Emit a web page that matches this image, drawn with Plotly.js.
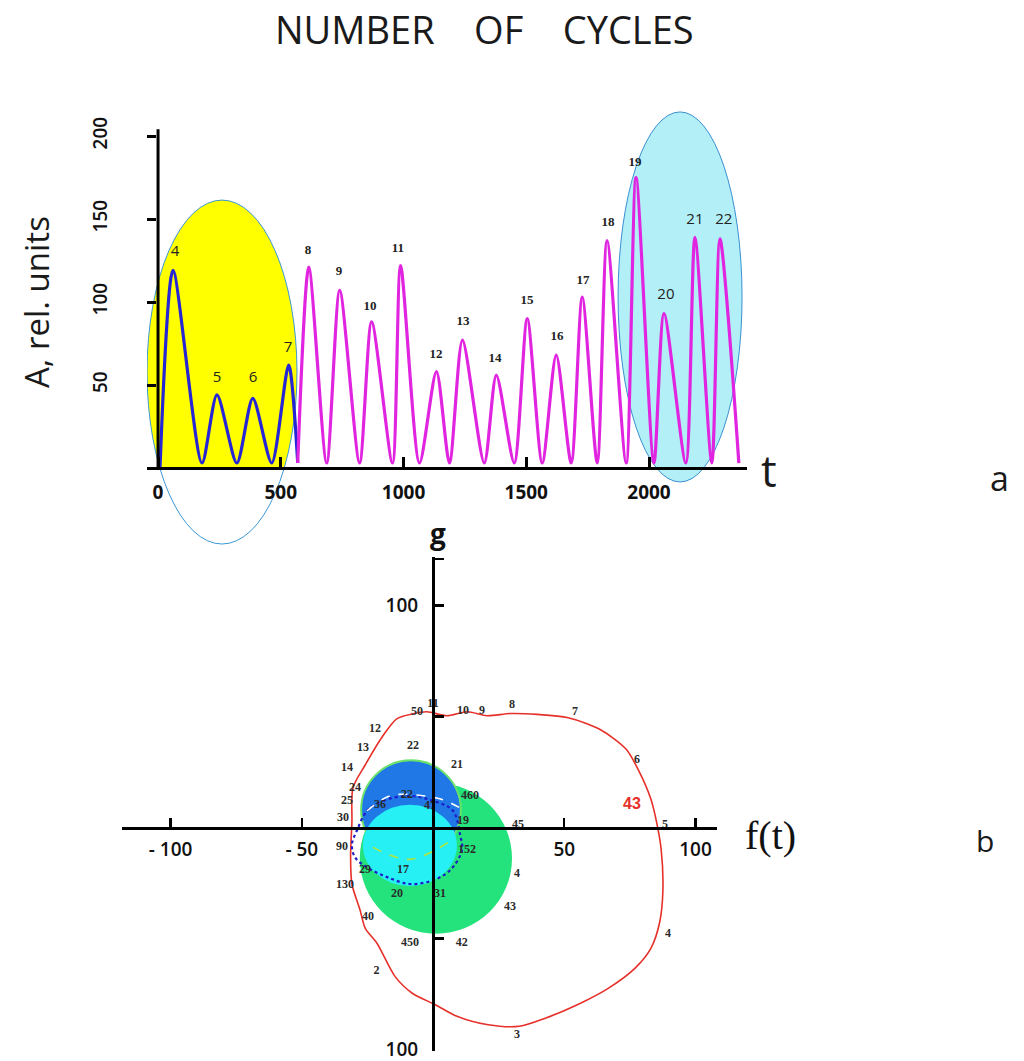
<!DOCTYPE html>
<html>
<head>
<meta charset="utf-8">
<script src="https://cdn.plot.ly/plotly-3.0.1.min.js"></script>
<style>html,body{margin:0;padding:0;background:#fff;}#chart{width:1024px;height:1061px;}</style>
</head>
<body>
<div id="chart"></div>
<script>
// ---------- Panel a : A(t) ----------
const blueT = [8, 61, 179, 240, 321, 386, 463, 532, 569];
const blueA = [0, 119, 3, 44, 3, 42, 3, 62, 3];
const magT = [569, 614, 687, 740, 821, 870, 955, 988, 1065, 1134, 1187, 1240, 1329, 1378, 1451, 1504, 1565, 1622, 1683, 1728, 1789, 1829, 1907, 1947, 2020, 2061, 2150, 2187, 2256, 2289, 2366];
const magA = [3, 121, 3, 107, 3, 88, 3, 122, 3, 58, 3, 77, 3, 56, 3, 90, 3, 68, 3, 103, 3, 137, 3, 175, 3, 93, 3, 139, 3, 138, 3];

const peakSansText = ['4', '5', '6', '7', '20', '21', '22'];
const peakSansT = [69, 240, 387, 530, 2069, 2187, 2305];
const peakSansA = [130, 54, 54, 72, 104, 149, 149];
const peakSerifText = ['8', '9', '10', '11', '12', '13', '14', '15', '16', '17', '18', '19'];
const peakSerifT = [611, 737, 863, 977, 1132, 1242, 1373, 1503, 1625, 1731, 1833, 1943];
const peakSerifA = [131, 118, 97, 132, 68, 88, 66, 101, 79, 113, 148, 184];

const tTickVals = [0, 500, 1000, 1500, 2000];
const aTickVals = [50, 100, 150, 200];

// ---------- Panel b : phase portrait g(f) ----------
const redF = [-30.5, -25.9, -19.0, -13.7, -7.6, -2.3, 5.3, 13.0, 20.6, 29.4, 39.7, 51.5, 63.5, 73.6, 78.7, 83.0, 85.2, 86.9, 87.6, 86.4, 83.0, 77.0, 66.9, 55.0, 43.0, 32.9, 21.0, 9.1, 0.9, -7.9, -14.5, -21.3, -25.8, -27.8, -30.9, -31.4, -30.9, -30.5];
const redG = [17.9, 28.1, 41.5, 49.1, 51.3, 52.2, 50.4, 52.2, 50.4, 51.4, 51.0, 49.5, 44.3, 35.3, 24.9, 12.9, 2.4, -9.5, -27.5, -42.4, -54.4, -63.3, -72.3, -79.8, -85.8, -89.5, -88.8, -85.0, -79.8, -74.6, -67.0, -52.2, -45.4, -37.1, -25.4, -12.5, 2.4, 17.9];

const loopF = [-25.1, -19.0, -8.8, 0, 7.6, 10.3, 11.0, 6.5, 0, -8.8, -17.5, -25.1, -29.7, -30.9, -29.0, -25.1];
const loopG = [7.6, 12.1, 14.3, 12.1, 7.6, -3.1, -10.3, -19.2, -23.7, -25.4, -22.3, -17.9, -13.4, -7.6, -1.3, 7.6];

const whiteArcF = [-25.1, -16.4, -6.1, 3.8, 10.3];
const whiteArcG = [7.6, 14.3, 14.7, 12.5, 8.9];
const limeArcF = [-22.9, -8.8, 5.7];
const limeArcG = [-8.9, -14.3, -6.7];

const bLabels = ['11', '50', '10', '9', '8', '7', '6', '5', '4', '3', '2', '40', '130', '12', '13', '14', '24', '25', '30', '22', '21', '460', '19', '45', '152', '4', '43', '42', '450', '31', '20', '17', '29', '36', '22', '47', '90'];
const bLabelF = [0, -6.1, 11.4, 18.7, 30.1, 54.1, 77.7, 88.4, 89.5, 32.0, -21.5, -24.8, -33.5, -22.1, -26.7, -32.8, -29.7, -32.8, -34.3, -7.6, 9.1, 14.1, 11.4, 32.4, 13.0, 32.0, 29.3, 11.0, -8.8, 2.7, -13.7, -11.4, -25.9, -20.2, -9.9, -1.1, -34.7];
const bLabelG = [55.5, 52.2, 52.7, 52.7, 55.4, 52.2, 30.4, 1.3, -47.8, -93.2, -64.8, -40.2, -25.9, 44.6, 35.7, 26.8, 17.9, 12.1, 4.5, 36.6, 28.1, 14.3, 3.1, 1.3, -10.3, -21.0, -35.7, -52.2, -52.2, -29.9, -29.9, -19.2, -19.2, 10.3, 14.7, 9.8, -8.9];

const fTickVals = [-100, -50, 50, 100];
const fTickText = ['- 100', '- 50', '50', '100'];
const gTickVals = [121, 100, 50, -50, -100];
const gTickText = ['', '100', '', '', '100'];

const labelColorB = '#2a2a2a';

const traces = [
  {x: blueT, y: blueA, xaxis: 'x', yaxis: 'y', mode: 'lines',
   line: {color: '#2626d6', width: 3.2, shape: 'spline', smoothing: 0.75}, hoverinfo: 'skip'},
  {x: magT, y: magA, xaxis: 'x', yaxis: 'y', mode: 'lines',
   line: {color: '#e024e0', width: 3.2, shape: 'spline', smoothing: 0.75}, hoverinfo: 'skip'},
  {x: peakSansT, y: peakSansA, text: peakSansText, xaxis: 'x', yaxis: 'y', mode: 'text',
   textfont: {family: 'Open Sans', size: 15, color: '#222'}, hoverinfo: 'skip'},
  {x: peakSerifT, y: peakSerifA, text: peakSerifText, xaxis: 'x', yaxis: 'y', mode: 'text',
   textfont: {family: 'Liberation Serif', size: 13, color: '#222', weight: 'bold'}, hoverinfo: 'skip'},

  {x: redF, y: redG, xaxis: 'x2', yaxis: 'y2', mode: 'lines',
   line: {color: '#e6302a', width: 1.6, shape: 'spline', smoothing: 0.8}, hoverinfo: 'skip'},
  {x: loopF, y: loopG, xaxis: 'x2', yaxis: 'y2', mode: 'lines',
   line: {color: '#1c1cc8', width: 2.2, shape: 'spline', smoothing: 1, dash: 'dot'}, hoverinfo: 'skip'},
  {x: whiteArcF, y: whiteArcG, xaxis: 'x2', yaxis: 'y2', mode: 'lines',
   line: {color: '#ffffff', width: 1.6, shape: 'spline', dash: 'dash'}, hoverinfo: 'skip'},
  {x: limeArcF, y: limeArcG, xaxis: 'x2', yaxis: 'y2', mode: 'lines',
   line: {color: '#b4e43a', width: 1.6, shape: 'spline', dash: 'dash'}, hoverinfo: 'skip'},
  {x: bLabelF, y: bLabelG, text: bLabels, xaxis: 'x2', yaxis: 'y2', mode: 'text',
   textfont: {family: 'Liberation Serif', size: 12, color: labelColorB, weight: 'bold'},
   hoverinfo: 'skip'},
  {x: [75.8], y: [10.3], text: ['43'], xaxis: 'x2', yaxis: 'y2', mode: 'text',
   textfont: {family: 'Liberation Sans', size: 16, color: '#e6302a', weight: 'bold'}, hoverinfo: 'skip'}
];

const shapes = [
  // panel a : light-cyan ellipse (right)
  {type: 'circle', xref: 'x', yref: 'y', layer: 'below', x0: 1874, x1: 2379, y0: -8.4, y1: 214.5,
   fillcolor: '#b2eff6', line: {color: '#3a8fd0', width: 1}},
  // panel a : yellow ellipse fill (left)
  {type: 'circle', xref: 'x', yref: 'y', layer: 'below', x0: -44.8, x1: 566, y0: -45.8, y1: 161.4,
   fillcolor: '#ffff00', line: {width: 0}},
  {type: 'rect', xref: 'x', yref: 'y', layer: 'below', x0: -46, x1: 600, y0: -50, y1: 0,
   fillcolor: '#ffffff', line: {width: 0}},
  {type: 'circle', xref: 'x', yref: 'y', layer: 'below', x0: -44.8, x1: 566, y0: -45.8, y1: 161.4,
   fillcolor: 'rgba(0,0,0,0)', line: {color: '#3b97d4', width: 1}},
  // panel a : y axis line
  {type: 'line', xref: 'x', yref: 'y', x0: 0, x1: 0, y0: 0, y1: 204, line: {color: '#000', width: 3}},
  // panel b : discs
  {type: 'circle', xref: 'x2', yref: 'y2', layer: 'below', x0: -27.9, x1: 30.1, y0: -47.8, y1: 20.1,
   fillcolor: '#24e27c', line: {width: 0}},
  {type: 'circle', xref: 'x2', yref: 'y2', layer: 'below', x0: -27.4, x1: 10.6, y0: -14.3, y1: 30.3,
   fillcolor: '#1f78e6', line: {color: '#6be36a', width: 2}},
  {type: 'circle', xref: 'x2', yref: 'y2', layer: 'below', x0: -26.7, x1: 9.1, y0: -26.3, y1: 10.3,
   fillcolor: '#26f0f4', line: {width: 0}}
];

const ann = (text, px, py, size, opts) => Object.assign({
  text: text, xref: 'paper', yref: 'paper', x: px / 1024, y: 1 - py / 1061,
  xanchor: 'center', yanchor: 'middle', showarrow: false,
  font: {family: 'Open Sans', size: size, color: '#1a1a1a'}
}, opts || {});

const annotations = [
  ann('NUMBER&nbsp;&nbsp;&nbsp; OF&nbsp;&nbsp;&nbsp; CYCLES', 484, 29, 38),
  ann('A, rel. units', 36, 302, 33, {textangle: -90}),
  ann('t', 769, 470, 44),
  ann('a', 999, 478, 34),
  ann('g', 438, 533, 28, {font: {family: 'Open Sans', size: 28, color: '#111', weight: 'bold'}}),
  ann('f(t)', 770, 835, 38, {font: {family: 'Liberation Serif', size: 40, color: '#111'}}),
  ann('b', 985, 840, 30)
];

const layout = {
  width: 1024, height: 1061,
  margin: {l: 0, r: 0, t: 0, b: 0},
  paper_bgcolor: '#ffffff', plot_bgcolor: 'rgba(0,0,0,0)',
  showlegend: false,
  xaxis: {
    domain: [0.14355, 0.72969], range: [-45, 2400], anchor: 'free', position: 0.55891,
    showline: true, linewidth: 3, linecolor: '#000', zeroline: false, showgrid: false,
    ticks: 'inside', ticklen: 10, tickwidth: 3, tickcolor: '#000',
    tickmode: 'array', tickvals: tTickVals, ticktext: tTickVals.map(String), ticklabelstandoff: 6,
    tickfont: {family: 'Open Sans', size: 19, color: '#111', weight: 'bold'}
  },
  yaxis: {
    domain: [0.48068, 0.89685], range: [-50, 216],
    showline: false, zeroline: false, showgrid: false,
    ticks: 'inside', ticklen: 9, tickwidth: 3, tickcolor: '#000',
    tickmode: 'array', tickvals: aTickVals, ticktext: aTickVals.map(String),
    tickangle: -90, ticklabelstandoff: 35,
    tickfont: {family: 'Open Sans', size: 19, color: '#111', weight: 600}
  },
  xaxis2: {
    domain: [0.11914, 0.70020], range: [-118.5, 108.2], anchor: 'free', position: 0.219981,
    showline: true, linewidth: 3, linecolor: '#000', zeroline: false, showgrid: false,
    ticks: 'inside', ticklen: 9, tickwidth: 2.5, tickcolor: '#000',
    tickmode: 'array', tickvals: fTickVals, ticktext: fTickText, ticklabelstandoff: 4,
    tickfont: {family: 'Open Sans', size: 19, color: '#111', weight: 600}
  },
  yaxis2: {
    domain: [0.009896, 0.475212], range: [-100.4, 122], anchor: 'free', position: 0.42285,
    showline: true, linewidth: 3, linecolor: '#000', zeroline: false, showgrid: false,
    ticks: 'inside', ticklen: 9, tickwidth: 2.5, tickcolor: '#000',
    tickmode: 'array', tickvals: gTickVals, ticktext: gTickText, ticklabelstandoff: 10,
    ticklabeloverflow: 'allow',
    tickfont: {family: 'Open Sans', size: 19, color: '#111', weight: 600}
  },
  shapes: shapes,
  annotations: annotations
};

Plotly.newPlot('chart', traces, layout, {staticPlot: true, displayModeBar: false});
</script>
</body>
</html>
